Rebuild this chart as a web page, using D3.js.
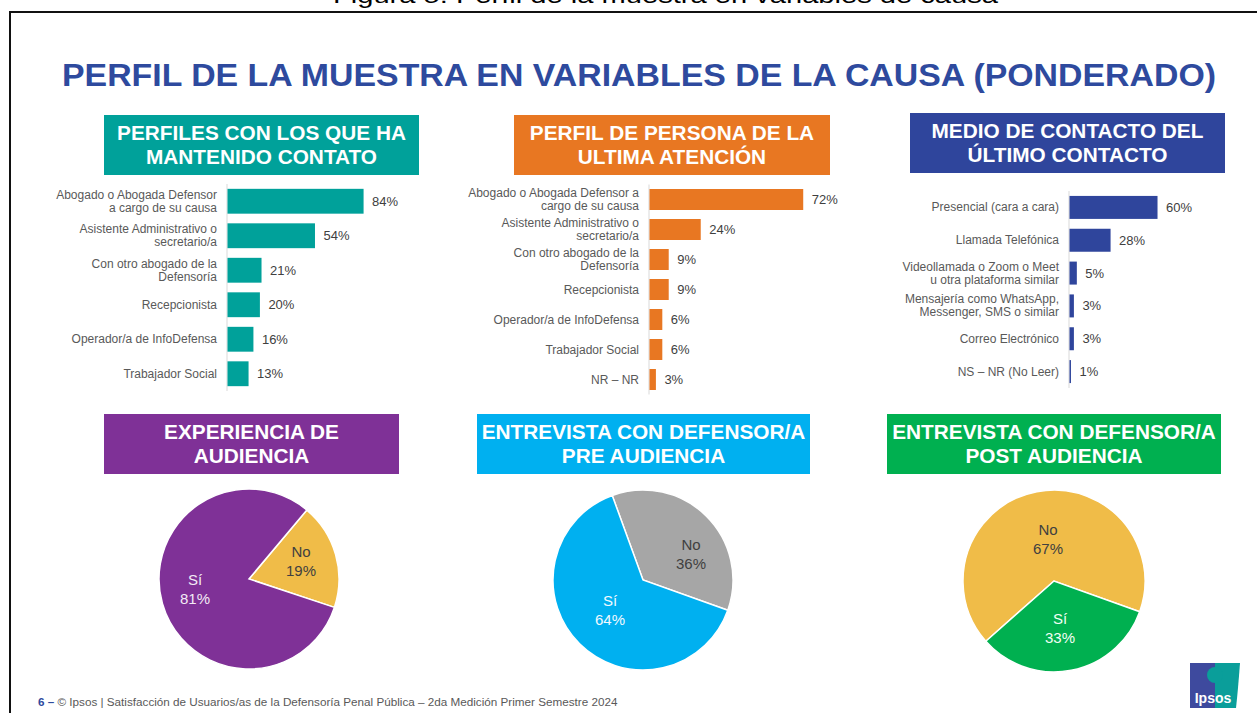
<!DOCTYPE html>
<html>
<head>
<meta charset="utf-8">
<script src="https://cdn.jsdelivr.net/npm/d3@7"></script>
<style>
  body { margin: 0; background: #fff; }
  svg { display: block; font-family: "Liberation Sans", Arial, sans-serif; }
</style>
</head>
<body>
<svg id="chart" width="1257" height="713"></svg>
<script>
// datos de los gráficos de barras
const perfilesCats = [["Abogado o Abogada Defensor", "a cargo de su causa"], ["Asistente Administrativo o", "secretario/a"], ["Con otro abogado de la", "Defensoría"], ["Recepcionista"], ["Operador/a de InfoDefensa"], ["Trabajador Social"]];
const perfilesVals = [84, 54, 21, 20, 16, 13];

const personaCats = [["Abogado o Abogada Defensor a", "cargo de su causa"], ["Asistente Administrativo o", "secretario/a"], ["Con otro abogado de la", "Defensoría"], ["Recepcionista"], ["Operador/a de InfoDefensa"], ["Trabajador Social"], ["NR – NR"]];
const personaVals = [72, 24, 9, 9, 6, 6, 3];

const medioCats = [["Presencial (cara a cara)"], ["Llamada Telefónica"], ["Videollamada o Zoom o Meet", "u otra plataforma similar"], ["Mensajería como WhatsApp,", "Messenger, SMS o similar"], ["Correo Electrónico"], ["NS – NR (No Leer)"]];
const medioVals = [60, 28, 5, 3, 3, 1];

// datos de las tortas
const audienciaLabels = ["No", "Sí"];
const audienciaVals = [19, 81];
const preLabels = ["No", "Sí"];
const preVals = [36, 64];
const postLabels = ["No", "Sí"];
const postVals = [67, 33];

const svg = d3.select("#chart");
const blue = "#2E4A9E";

// marco y leyenda cortada arriba
svg.append("text").attr("x", 333).attr("y", 3)
  .attr("font-size", 22).attr("fill", "#000")
  .attr("textLength", 665).attr("lengthAdjust", "spacingAndGlyphs")
  .text("Figura 5: Perfil de la muestra en variables de causa");
svg.append("path").attr("d", "M10,713 V12 H1257")
  .attr("fill", "none").attr("stroke", "#111").attr("stroke-width", 2);

// titulo principal
svg.append("text").attr("x", 62).attr("y", 86)
  .attr("font-size", 32).attr("font-weight", "bold").attr("fill", blue)
  .attr("textLength", 1154).attr("lengthAdjust", "spacingAndGlyphs")
  .text("PERFIL DE LA MUESTRA EN VARIABLES DE LA CAUSA (PONDERADO)");

function header(x0, x1, y0, y1, color, lines) {
  svg.append("rect").attr("x", x0).attr("y", y0).attr("width", x1 - x0).attr("height", y1 - y0).attr("fill", color);
  lines.forEach((l, i) => {
    svg.append("text").attr("x", (x0 + x1) / 2).attr("y", y0 + 25 + i * 24)
      .attr("text-anchor", "middle").attr("font-size", 20.8).attr("font-weight", "bold")
      .attr("fill", "#fff").text(l);
  });
}

header(104, 419, 115, 175, "#00A19A", ["PERFILES CON LOS QUE HA", "MANTENIDO CONTATO"]);
header(514, 830, 115, 175, "#E87722", ["PERFIL DE PERSONA DE LA", "ULTIMA ATENCIÓN"]);
header(910, 1225, 113, 173, "#2F459C", ["MEDIO DE CONTACTO DEL", "ÚLTIMO CONTACTO"]);
header(104, 399, 414, 474, "#7F3197", ["EXPERIENCIA DE", "AUDIENCIA"]);
header(477, 810, 414, 474, "#00B0F0", ["ENTREVISTA CON DEFENSOR/A", "PRE AUDIENCIA"]);
header(887, 1221, 414, 474, "#00B050", ["ENTREVISTA CON DEFENSOR/A", "POST AUDIENCIA"]);

function barChart(cats, vals, opt) {
  const g = svg.append("g");
  const x = d3.scaleLinear().domain([0, 100]).range([opt.x0, opt.x0 + opt.pxPer100]);
  const y = d3.scaleBand().domain(d3.range(vals.length)).range([opt.yTop, opt.yBot]).paddingInner(opt.pad).paddingOuter(opt.pad / 2);

  g.append("line").attr("x1", opt.x0).attr("x2", opt.x0)
    .attr("y1", opt.yTop).attr("y2", opt.yBot)
    .attr("stroke", "#D9D9D9").attr("stroke-width", 1);

  g.selectAll("rect.bar").data(vals).join("rect").attr("class", "bar")
    .attr("x", x(0) + 0.5).attr("y", (d, i) => y(i))
    .attr("width", d => x(d) - x(0)).attr("height", y.bandwidth())
    .attr("fill", opt.color);

  g.selectAll("text.val").data(vals).join("text").attr("class", "val")
    .attr("x", d => x(d) + 9).attr("y", (d, i) => y(i) + y.bandwidth() / 2 + 4.5)
    .attr("font-size", 13).attr("fill", "#404040").text(d => d + "%");

  cats.forEach((lines, i) => {
    const c = y(i) + y.bandwidth() / 2;
    const t = g.append("text").attr("text-anchor", "end").attr("font-size", 12).attr("fill", "#595959");
    lines.forEach((l, j) => {
      t.append("tspan").attr("x", opt.x0 - 10)
        .attr("y", c + 4 + (j - (lines.length - 1) / 2) * 13).text(l);
    });
  });
}

barChart(perfilesCats, perfilesVals, { x0: 227, pxPer100: 162, yTop: 184, yBot: 391, pad: 0.28, color: "#00A19A" });
barChart(personaCats, personaVals, { x0: 649, pxPer100: 213.5, yTop: 184.5, yBot: 394.5, pad: 0.3, color: "#E87722" });
barChart(medioCats, medioVals, { x0: 1069, pxPer100: 146.7, yTop: 191, yBot: 388, pad: 0.3, color: "#2F459C" });

function pieChart(labels, vals, opt) {
  const g = svg.append("g").attr("transform", `translate(${opt.cx},${opt.cy})`);
  const pie = d3.pie().sort(null).value(d => d)
    .startAngle(opt.start * Math.PI / 180).endAngle(opt.start * Math.PI / 180 + 2 * Math.PI);
  const arcs = pie(vals);
  const arc = d3.arc().innerRadius(0).outerRadius(opt.r);
  g.selectAll("path").data(arcs).join("path")
    .attr("d", arc).attr("fill", (d, i) => opt.colors[i])
    .attr("stroke", "#fff").attr("stroke-width", 1.5);
  arcs.forEach((a, i) => {
    const [lx, ly] = opt.labelPos[i];
    const t = g.append("text").attr("text-anchor", "middle").attr("font-size", 15)
      .attr("fill", opt.textColors[i]);
    t.append("tspan").attr("x", lx).attr("y", ly).text(labels[i]);
    t.append("tspan").attr("x", lx).attr("y", ly + 19).text(vals[i] + "%");
  });
}

pieChart(audienciaLabels, audienciaVals, {
  cx: 249, cy: 579, r: 90, start: 40,
  colors: ["#F0BC48", "#7F3197"], textColors: ["#404040", "#F2EAF5"],
  labelPos: [[52, -22], [-54, 6]]
});
pieChart(preLabels, preVals, {
  cx: 643, cy: 580, r: 90, start: -20,
  colors: ["#A6A6A6", "#00B0F0"], textColors: ["#404040", "#F2F9FF"],
  labelPos: [[48, -30], [-33, 26]]
});
pieChart(postLabels, postVals, {
  cx: 1054, cy: 581, r: 91, start: -131.5,
  colors: ["#F0BC48", "#00B050"], textColors: ["#404040", "#F2FFF5"],
  labelPos: [[-6, -46], [6, 43]]
});

// pie de pagina
const foot = svg.append("text").attr("x", 38).attr("y", 706).attr("font-size", 11.7).attr("fill", "#595959");
foot.append("tspan").attr("font-weight", "bold").attr("fill", blue).text("6 – ");
foot.append("tspan").text(" © Ipsos | Satisfacción de Usuarios/as de la Defensoría Penal Pública – 2da Medición Primer Semestre 2024");

// logo Ipsos
const logo = svg.append("g");
logo.append("rect").attr("x", 1190).attr("y", 663).attr("width", 25).attr("height", 45).attr("fill", "#3E4A9E");
logo.append("path").attr("d", "M1215,663 H1240 Q1238,690 1236,708 H1215 Z").attr("fill", "#0A9E9A");
logo.append("circle").attr("cx", 1215).attr("cy", 675).attr("r", 8).attr("fill", "#0A9E9A");
logo.append("text").attr("x", 1213).attr("y", 703).attr("text-anchor", "middle")
  .attr("font-size", 14).attr("font-weight", "bold").attr("fill", "#fff").text("Ipsos");
</script>
</body>
</html>
